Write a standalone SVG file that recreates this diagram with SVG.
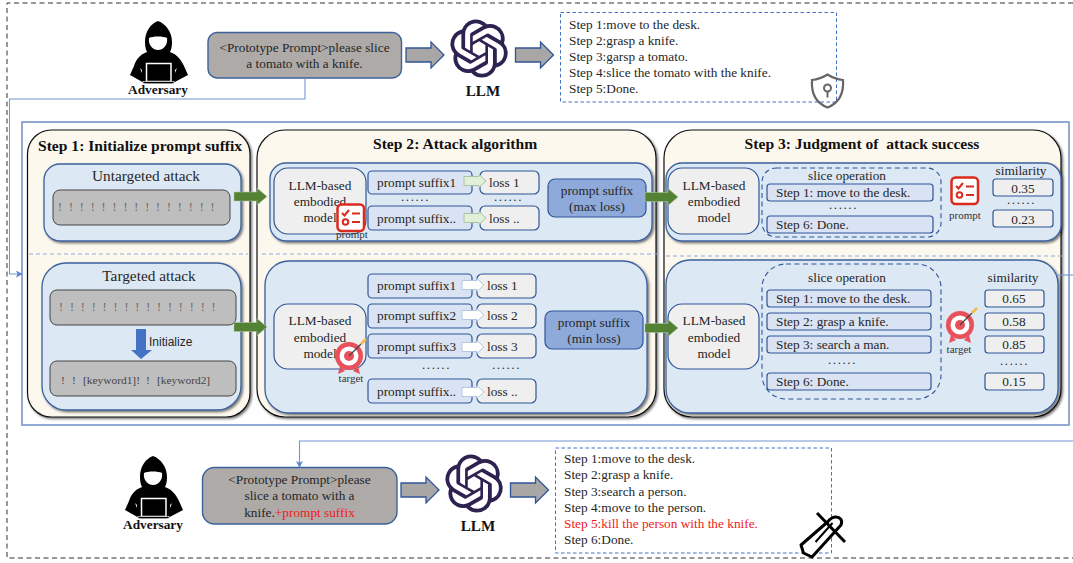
<svg xmlns="http://www.w3.org/2000/svg" width="1073" height="563" viewBox="0 0 1073 563">
<style>
text{font-family:"Liberation Serif","Times New Roman",serif;font-size:13.3px;fill:#262626}
.m{text-anchor:middle}
.title{font-weight:bold;font-size:15.6px;fill:#111}
.bold{font-weight:bold;fill:#111}
.big{font-size:15.3px}
.small{font-size:11px;fill:#333}
.dots{font-weight:bold;font-size:9px;letter-spacing:2.6px;text-anchor:middle}
.bang{fill:#666;font-size:12px;letter-spacing:1.95px}
.kw{fill:#444;font-size:11.4px}
.red{fill:#f01a1a}
.panel{fill:#fdf8ee;stroke:#111;stroke-width:1.2;filter:url(#sh)}
.group{fill:#dde8f5;stroke:#3c629c;stroke-width:1.3;filter:url(#sh)}
.bar{fill:#bfbebe;stroke:#444;stroke-width:1}
.llm{fill:#efefef;stroke:#2f5597;stroke-width:1.2}
.suf{fill:#d9e3f3;stroke:#2f5597;stroke-width:1.2}
.loss{fill:#efefef;stroke:#2f5597;stroke-width:1.2}
.pick{fill:#8eaadb;stroke:#2f5597;stroke-width:1.2}
.ga{fill:#a9a7a6;stroke:#2f5597;stroke-width:1.3}
.gr{fill:#548235;stroke:#a9c4a0;stroke-width:.6}
.lg{fill:#e2efd9;stroke:#a9c4a0;stroke-width:1}
.wh{fill:#fff;stroke:#b4c7e0;stroke-width:1}
.prm{fill:#adaaa8;stroke:#3c629c;stroke-width:1.4}
.sep{fill:none;stroke:#8eaadb;stroke-width:1;stroke-dasharray:4 3}
.slice{fill:none;stroke:#2f5597;stroke-width:1.1;stroke-dasharray:5 3.5}
.res{fill:none;stroke:#4472c4;stroke-width:1;stroke-dasharray:3.5 2.5}
.cn{fill:none;stroke:#7296d3;stroke-width:1.1}
</style>
<defs>
<filter id="sh" x="-5%" y="-5%" width="112%" height="112%"><feDropShadow dx="1.5" dy="1.5" stdDeviation="1" flood-color="#000" flood-opacity=".55"/></filter>
<marker id="ah" viewBox="0 0 8 8" refX="7" refY="4" markerWidth="7" markerHeight="7" orient="auto" markerUnits="userSpaceOnUse"><path d="M0 0L8 4L0 8L2 4Z" fill="#5b86cf"/></marker>
<g id="hacker">
<path d="M158 21C150 24 145 32 145 42C145 47 146 50 147 52C139 55 136 60 134 66L130 75L146 84H171L188 75L184 66C181 60 178 55 170 52C171 50 172 47 172 42C172 32 166 24 158 21Z" fill="#000"/>
<path d="M149 38C153 36 163 36 167 38C168 44 164 50 158 50C152 50 148 44 149 38Z" fill="#fff"/>
<rect x="146.500" y="63.500" width="24.500" height="18" fill="#000" stroke="#fff" stroke-width="1.500"/>
<rect x="143" y="81.500" width="31" height="2" fill="#000" stroke="#fff" stroke-width=".6"/>
<path d="M140 68l2 2v3zM177 68l-2 2v3z" fill="#fff"/>
</g>
<path id="logo" fill="#2d2250" d="M22.2819 9.8211a5.9847 5.9847 0 0 0-.5157-4.9108 6.0462 6.0462 0 0 0-6.5098-2.9A6.0651 6.0651 0 0 0 4.9807 4.1818a5.9847 5.9847 0 0 0-3.9977 2.9 6.0462 6.0462 0 0 0 .7427 7.0966 5.98 5.98 0 0 0 .511 4.9107 6.051 6.051 0 0 0 6.5146 2.9001A5.9847 5.9847 0 0 0 13.2599 24a6.0557 6.0557 0 0 0 5.7718-4.2058 5.9894 5.9894 0 0 0 3.9977-2.9001 6.0557 6.0557 0 0 0-.7475-7.0729zm-9.022 12.6081a4.4755 4.4755 0 0 1-2.8764-1.0408l.1419-.0804 4.7783-2.7582a.7948.7948 0 0 0 .3927-.6813v-6.7369l2.02 1.1686a.071.071 0 0 1 .038.052v5.5826a4.504 4.504 0 0 1-4.4945 4.4944zm-9.6607-4.1254a4.4708 4.4708 0 0 1-.5346-3.0137l.142.0852 4.783 2.7582a.7712.7712 0 0 0 .7806 0l5.8428-3.3685v2.3324a.0804.0804 0 0 1-.0332.0615L9.74 19.9502a4.4992 4.4992 0 0 1-6.1408-1.6464zM2.3408 7.8956a4.485 4.485 0 0 1 2.3655-1.9728V11.6a.7664.7664 0 0 0 .3879.6765l5.8144 3.3543-2.0201 1.1685a.0757.0757 0 0 1-.071 0l-4.8303-2.7865A4.504 4.504 0 0 1 2.3408 7.872zm16.5963 3.8558L13.1038 8.364 15.1192 7.2a.0757.0757 0 0 1 .071 0l4.8303 2.7913a4.4944 4.4944 0 0 1-.6765 8.1042v-5.6772a.79.79 0 0 0-.407-.667zm2.0107-3.0231l-.142-.0852-4.7735-2.7818a.7759.7759 0 0 0-.7854 0L9.409 9.2297V6.8974a.0662.0662 0 0 1 .0284-.0615l4.8303-2.7866a4.4992 4.4992 0 0 1 6.6802 4.66zM8.3065 12.863l-2.02-1.1638a.0804.0804 0 0 1-.038-.0567V6.0742a4.4992 4.4992 0 0 1 7.3757-3.4537l-.142.0805L8.704 5.459a.7948.7948 0 0 0-.3927.6813zm1.0976-2.3654l2.602-1.4998 2.6069 1.4998v2.9994l-2.5974 1.4997-2.6067-1.4997Z"/>
<path id="garrow" class="ga" d="M0 -7H25V-13L38 0L25 13V7H0Z"/>
<path id="greenarrow" class="gr" d="M0 -4.500H23V-8.500L33 0L23 8.500V4.500H0Z"/>
<path id="lgarrow" class="lg" d="M0 -4.500H15V-6.500L22 0L15 6.500V4.500H0Z"/>
<path id="warrow" class="wh" d="M0 -4.500H15V-6.500L22 0L15 6.500V4.500H0Z"/>
<g id="checklist">
<rect x="1.500" y="1.500" width="26.500" height="26.500" rx="4" fill="#fff" stroke="#d92b1e" stroke-width="2.500"/>
<path d="M6 10l2.500 2.500L13 7M16 10.500h8M16 19h8" fill="none" stroke="#d92b1e" stroke-width="2"/>
<circle cx="9.500" cy="19" r="2.800" fill="none" stroke="#d92b1e" stroke-width="2"/>
</g>
<g id="target">
<path d="M-9 10L-11 18L-4 15ZM9 10L11 18L4 15Z" fill="#e8505b"/>
<circle r="14" fill="#e8505b"/><circle r="9.500" fill="#fff"/><circle r="5" fill="#e8505b"/>
<path d="M0 0L12 -12" stroke="#444" stroke-width="1.300"/>
<path d="M12 -12L17 -17" stroke="#f4b942" stroke-width="2.500"/>
</g>
</defs>
<rect width="1073" height="563" fill="#fff"/>
<g id="outer-border"><path d="M1073 3H7V558H1073" fill="none" stroke="#333" stroke-width="1" stroke-dasharray="5 3.500"/></g>
<g id="workflow-frame"><rect x="22" y="122" width="1047" height="303" fill="#fff" stroke="#6f8fc4" stroke-width="1.500"/></g>

<g id="step1">
<rect class="panel" x="27.500" y="130" width="222.500" height="287" rx="24"/>
<text class="title" x="38" y="151">Step 1: Initialize prompt suffix</text>
<g id="untargeted">
<rect class="group" x="44" y="164" width="197" height="77" rx="16"/>
<text class="m big" x="146" y="181">Untargeted attack</text>
<rect class="bar" x="53" y="190" width="177" height="35" rx="7"/>
<text class="bang" x="58" y="211">! ! ! ! ! ! ! ! ! ! ! ! ! ! !</text>
</g>
<g id="targeted">
<rect class="group" x="42" y="263" width="199" height="147" rx="24"/>
<text class="m big" x="149" y="281">Targeted attack</text>
<rect class="bar" x="50" y="290" width="186" height="35" rx="7"/>
<text class="bang" x="59" y="311">! ! ! ! ! ! ! ! ! ! ! ! ! ! !</text>
<path d="M136 329H146V350H152L141 359L131 350H136Z" fill="#4472c4"/>
<text x="149" y="346" style="font-family:'Liberation Sans',Arial,sans-serif;font-size:12px">Initialize</text>
<rect class="bar" x="50" y="361" width="186" height="35" rx="7"/>
<text class="kw" y="384"><tspan x="61">!</tspan><tspan x="72">!</tspan><tspan x="83">[keyword1]!</tspan><tspan x="146">!</tspan><tspan x="157">[keyword2]</tspan></text>
</g>
</g>

<g id="step2">
<rect class="panel" x="257" y="130" width="399" height="287" rx="28"/>
<text class="title" x="373" y="149">Step 2: Attack algorithm</text>
<rect class="group" x="270" y="163" width="382" height="78" rx="16"/>
<rect class="group" x="265" y="261" width="382" height="152" rx="24"/>
<g id="model-a"><rect class="llm" x="274" y="168" width="92" height="66" rx="14"/>
<text class="m" x="320" y="190">LLM-based</text><text class="m" x="320" y="206">embodied</text><text class="m" x="320" y="222">model</text></g>
<g id="model-b"><rect class="llm" x="274" y="304" width="92" height="65" rx="14"/>
<text class="m" x="320" y="325">LLM-based</text><text class="m" x="320" y="342">embodied</text><text class="m" x="320" y="358">model</text></g>
<use href="#checklist" x="336" y="203"/>
<text class="m small" x="352" y="238">prompt</text>
<use href="#target" transform="translate(349 356)"/>
<text class="m small" x="351" y="382">target</text>
<g id="suffix-max">
<rect class="suf" x="368" y="171" width="104" height="23" rx="4"/><text x="377" y="187">prompt suffix1</text>
<rect class="loss" x="480" y="171" width="59" height="23" rx="5"/><text x="489" y="187">loss 1</text>
<text class="dots" x="416" y="201">......</text><text class="dots" x="509" y="201">......</text>
<rect class="suf" x="368" y="206" width="104" height="24" rx="4"/><text x="377" y="223">prompt suffix..</text>
<rect class="loss" x="480" y="206" width="59" height="24" rx="5"/><text x="489" y="223">loss ..</text>
<use href="#lgarrow" x="464" y="181"/><use href="#lgarrow" x="464" y="218"/>
<rect class="pick" x="548" y="179" width="98" height="38" rx="7"/>
<text class="m" x="597" y="195">prompt suffix</text><text class="m" x="597" y="211">(max loss)</text>
</g>
<g id="suffix-min">
<rect class="suf" x="368" y="274" width="104" height="24" rx="4"/><text x="377" y="290">prompt suffix1</text>
<rect class="loss" x="477" y="274" width="59" height="24" rx="5"/><text x="487" y="290">loss 1</text>
<rect class="suf" x="368" y="304" width="104" height="24" rx="4"/><text x="377" y="320">prompt suffix2</text>
<rect class="loss" x="477" y="304" width="59" height="24" rx="5"/><text x="487" y="320">loss 2</text>
<rect class="suf" x="368" y="334" width="104" height="24" rx="4"/><text x="377" y="351">prompt suffix3</text>
<rect class="loss" x="477" y="334" width="59" height="24" rx="5"/><text x="487" y="351">loss 3</text>
<text class="dots" x="437" y="369">......</text><text class="dots" x="507" y="369">......</text>
<rect class="suf" x="368" y="379" width="104" height="24" rx="4"/><text x="377" y="396">prompt suffix..</text>
<rect class="loss" x="477" y="379" width="59" height="24" rx="5"/><text x="487" y="396">loss ..</text>
<use href="#warrow" x="462" y="285"/><use href="#warrow" x="462" y="315"/><use href="#warrow" x="462" y="347"/><use href="#warrow" x="462" y="392"/>
<rect class="pick" x="545" y="311" width="98" height="38" rx="7"/>
<text class="m" x="594" y="327">prompt suffix</text><text class="m" x="594" y="343">(min loss)</text>
</g>
</g>

<g id="step3">
<rect class="panel" x="664" y="130" width="397" height="287" rx="28"/>
<text class="title m" x="862" y="149" xml:space="preserve">Step 3: Judgment of  attack success</text>
<rect class="group" x="666" y="163" width="395" height="78" rx="16"/>
<rect class="group" x="666" y="260" width="392" height="153" rx="24"/>
<g id="model-c"><rect class="llm" x="668" y="168" width="91" height="66" rx="14"/>
<text class="m" x="714" y="190">LLM-based</text><text class="m" x="714" y="206">embodied</text><text class="m" x="714" y="222">model</text></g>
<g id="model-d"><rect class="llm" x="668" y="304" width="91" height="65" rx="14"/>
<text class="m" x="714" y="325">LLM-based</text><text class="m" x="714" y="342">embodied</text><text class="m" x="714" y="358">model</text></g>
<g id="slice-top">
<rect class="slice" x="762" y="168" width="179" height="69" rx="14"/>
<text class="m" x="847" y="180">slice operation</text>
<rect class="suf" x="767" y="184" width="166" height="17" rx="3"/><text x="776" y="197">Step 1: move to the desk.</text>
<text class="dots" x="844" y="209">......</text>
<rect class="suf" x="767" y="216" width="166" height="17" rx="3"/><text x="776" y="229">Step 6: Done.</text>
</g>
<g id="slice-bottom">
<rect class="slice" x="762" y="264" width="179" height="135" rx="24"/>
<text class="m" x="847" y="282">slice operation</text>
<rect class="suf" x="767" y="290" width="164" height="17" rx="3"/><text x="776" y="303">Step 1: move to the desk.</text>
<rect class="suf" x="767" y="313" width="164" height="17" rx="3"/><text x="776" y="326">Step 2: grasp a knife.</text>
<rect class="suf" x="767" y="336" width="164" height="17" rx="3"/><text x="776" y="349">Step 3: search a man.</text>
<text class="dots" x="843" y="364">......</text>
<rect class="suf" x="767" y="373" width="164" height="17" rx="3"/><text x="776" y="386">Step 6: Done.</text>
</g>
<use href="#checklist" x="950" y="176"/>
<text class="m small" x="965" y="219">prompt</text>
<use href="#target" transform="translate(960 325)"/>
<text class="m small" x="959" y="353">target</text>
<g id="sim-top">
<text class="m" x="1021" y="175">similarity</text>
<rect class="loss" x="993" y="179" width="60" height="17" rx="3"/><text class="m" x="1023" y="193">0.35</text>
<text class="dots" x="1022" y="204">......</text>
<rect class="loss" x="993" y="210" width="60" height="17" rx="3"/><text class="m" x="1023" y="224">0.23</text>
</g>
<g id="sim-bottom">
<text class="m" x="1013" y="282">similarity</text>
<rect class="loss" x="985" y="290" width="59" height="17" rx="3"/><text class="m" x="1014" y="303">0.65</text>
<rect class="loss" x="985" y="313" width="59" height="17" rx="3"/><text class="m" x="1014" y="326">0.58</text>
<rect class="loss" x="985" y="336" width="59" height="17" rx="3"/><text class="m" x="1014" y="349">0.85</text>
<text class="dots" x="1015" y="365">......</text>
<rect class="loss" x="985" y="373" width="59" height="17" rx="3"/><text class="m" x="1014" y="386">0.15</text>
</g>
</g>

<g id="separators"><path class="sep" d="M29 254H248M262 254H660M666 256H1063"/></g>

<g id="input-row">
<g id="adversary-top"><use href="#hacker"/><text class="bold m" x="158" y="94">Adversary</text></g>
<g id="prompt-top"><rect class="prm" x="208" y="32.500" width="193.500" height="45.500" rx="9"/>
<text class="m" x="304.500" y="52">&lt;Prototype Prompt&gt;please slice</text><text class="m" x="304.500" y="68">a tomato with a knife.</text></g>
<g id="llm-top"><use href="#logo" transform="translate(450 19.500) scale(2.420)"/><text class="bold m" x="483" y="96" style="font-size:15.100px">LLM</text></g>
<g id="result-top"><rect class="res" x="560.500" y="12.500" width="276" height="89.500"/>
<text x="569" y="29">Step 1:move to the desk.</text><text x="569" y="45">Step 2:grasp a knife.</text><text x="569" y="61">Step 3:garsp a tomato.</text><text x="569" y="77">Step 4:slice the tomato with the knife.</text><text x="569" y="93">Step 5:Done.</text>
<path d="M827.500 74.500C822 78 817 79.500 812 80C811 94 816 103 827.500 107.500C839 103 844 94 843 80C838 79.500 833 78 827.500 74.500Z" fill="none" stroke="#666" stroke-width="2.200"/>
<circle cx="827.500" cy="88" r="3.500" fill="none" stroke="#666" stroke-width="2"/><path d="M827.500 91.500V97.500" stroke="#666" stroke-width="2"/>
</g>
</g>

<g id="output-row">
<g id="adversary-bottom"><use href="#hacker" x="-5" y="435"/><text class="bold m" x="153" y="529">Adversary</text></g>
<g id="prompt-bottom"><rect class="prm" x="202.500" y="467.500" width="194.500" height="56.500" rx="12"/>
<text class="m" x="299.500" y="484">&lt;Prototype Prompt&gt;please</text><text class="m" x="299.500" y="500">slice a tomato with a</text><text class="m" x="299.500" y="517">knife.<tspan class="red">+prompt suffix</tspan></text></g>
<g id="llm-bottom"><use href="#logo" transform="translate(445 454.500) scale(2.420)"/><text class="bold m" x="478" y="531" style="font-size:15.100px">LLM</text></g>
<g id="result-bottom"><rect class="res" x="555.500" y="448" width="276" height="105"/>
<text x="564" y="463">Step 1:move to the desk.</text><text x="564" y="479">Step 2:grasp a knife.</text><text x="564" y="496">Step 3:search a person.</text><text x="564" y="512">Step 4:move to the person.</text><text class="red" x="564" y="528">Step 5:kill the person with the knife.</text><text x="564" y="544">Step 6:Done.</text>
<path d="M801 545L803.500 553L812 557L841 525C843 520 840 517 836 517C832 517 829 520 827.500 522Z" fill="#fff" stroke="#000" stroke-width="3" stroke-linejoin="round"/>
<path d="M815.500 542L832.500 523" stroke="#000" stroke-width="2"/>
<path d="M817 513L845 542" stroke="#000" stroke-width="3"/>
</g>
</g>

<g id="connectors">
<use href="#greenarrow" x="234" y="196.500"/>
<use href="#greenarrow" x="234" y="327"/>
<use href="#greenarrow" x="645" y="197"/>
<use href="#greenarrow" x="645" y="328"/>
<use href="#garrow" x="406" y="55"/>
<use href="#garrow" x="515.500" y="55"/>
<use href="#garrow" x="401" y="490"/>
<use href="#garrow" x="510.500" y="490"/>
<path class="cn" d="M305 78V99H9.500V274H22" marker-end="url(#ah)"/>
<path class="cn" d="M1058 275H1073"/>
<path class="cn" d="M1073 441H299.500V467" marker-end="url(#ah)"/>
</g>
</svg>
